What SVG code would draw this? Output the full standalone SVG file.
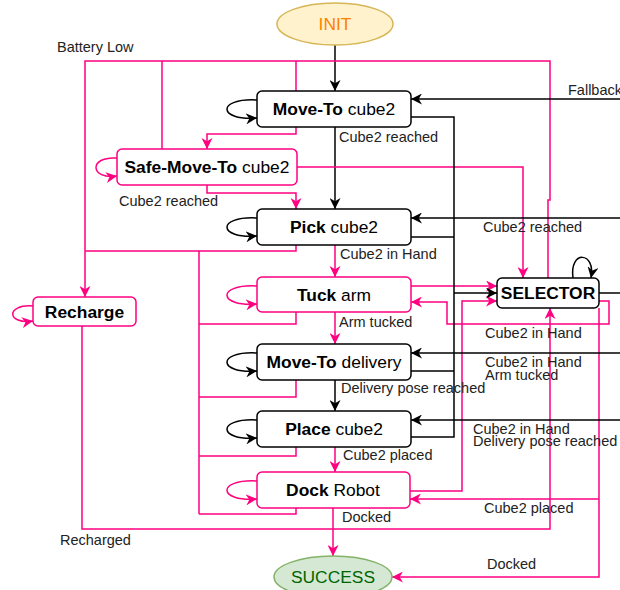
<svg xmlns="http://www.w3.org/2000/svg" width="620" height="590" viewBox="0 0 620 590">
<style>
  .n{fill:#fff;stroke:#000;stroke-width:1.5}
  .np{fill:#fff;stroke:#FF0080;stroke-width:1.5}
  .nt{font-family:"Liberation Sans",Arial,sans-serif;font-size:17.4px;fill:#000;text-anchor:middle}
  .lb{font-family:"Liberation Sans",Arial,sans-serif;font-size:14.5px;fill:#222}
  .k{fill:none;stroke:#000;stroke-width:1.5}
  .p{fill:none;stroke:#FF0080;stroke-width:1.5}
  .ka{marker-end:url(#ak)}
  .pa{marker-end:url(#ap)}
</style>
<defs>
  <marker id="ak" viewBox="0 0 10 10" refX="10" refY="5" markerWidth="11" markerHeight="11" markerUnits="userSpaceOnUse" orient="auto"><path d="M0,0 L10,5 L0,10 L3,5 z" fill="#000"/></marker>
  <marker id="ap" viewBox="0 0 10 10" refX="10" refY="5" markerWidth="11" markerHeight="11" markerUnits="userSpaceOnUse" orient="auto"><path d="M0,0 L10,5 L0,10 L3,5 z" fill="#FF0080"/></marker>
</defs>
<g id="connectors">
  <path class="k ka" d="M335,45 L335,91"/>
  <path class="k ka" d="M335,127 L335,209"/>
  <path class="k ka" d="M335,380 L335,411"/>
  <path class="p pa" d="M335,245 L335,277"/>
  <path class="p pa" d="M335,312 L335,344"/>
  <path class="p pa" d="M335,447 L335,472"/>
  <path class="p pa" d="M333,508 L333,556"/>
  <path class="p pa" d="M296,127 L296,134 L207,134 L207,149"/>
  <path class="p pa" d="M207,185 L207,193 L296,193 L296,209"/>
  <path class="p pa" d="M297,167 L523,167 L523,278"/>
  <path class="p pa" d="M548,278 L548,200 L550,200 L550,61 L85,61 L85,297"/>
  <path class="p" d="M162,149 L162,61"/>
  <path class="p" d="M296,91 L296,61"/>
  <path class="p" d="M296,245 L296,251 L85,251"/>
  <path class="p" d="M199,251 L199,514"/>
  <path class="p" d="M296,312 L296,324 L199,324"/>
  <path class="p" d="M296,380 L296,397 L199,397"/>
  <path class="p" d="M296,447 L296,456 L199,456"/>
  <path class="p" d="M296,508 L296,514 L199,514"/>
  <path class="p pa" d="M82,326 L82,529 L550,529 L550,308"/>
  <path class="p pa" d="M411,286 L497,286"/>
  <path class="p pa" d="M599,301 L609,301 L609,324 L447,324 L447,302 L411,302"/>
  <path class="p pa" d="M410,491 L462,491 L462,301 L497,301"/>
  <path class="p pa" d="M599,308 L599,577 L392,577"/>
  <path class="p pa" d="M599,499 L410,499"/>
  <path class="k" d="M411,117 L454,117 L454,437 L411,437"/>
  <path class="k" d="M411,237 L454,237"/>
  <path class="k" d="M411,371 L454,371"/>
  <path class="k ka" d="M454,293 L497,293"/>
  <path class="k" d="M599,293 L620,293"/>
  <path class="k ka" d="M620,99 L411,99"/>
  <path class="k ka" d="M620,218 L411,218"/>
  <path class="k ka" d="M620,353 L411,353"/>
  <path class="k ka" d="M620,420 L411,420"/>
  <path class="k ka" d="M257,100 C216,98 218,121 257,118"/>
  <path class="p pa" d="M117,158 C88,156 90,180 117,176"/>
  <path class="k ka" d="M257,218 C216,216 218,239 257,236"/>
  <path class="p pa" d="M257,286 C216,284 218,307 257,304"/>
  <path class="k ka" d="M257,353 C216,351 218,374 257,371"/>
  <path class="k ka" d="M257,420 C216,418 218,441 257,438"/>
  <path class="p pa" d="M257,481 C216,479 218,502 257,499"/>
  <path class="p pa" d="M33,306 C5,304 7,325 33,321"/>
  <path class="k ka" d="M573,278 C569,250 596,251 591,278"/>
  <text class="lb" x="57" y="52">Battery Low</text>
  <text class="lb" x="568" y="95">Fallback</text>
  <text class="lb" x="339" y="142">Cube2 reached</text>
  <text class="lb" x="119" y="206">Cube2 reached</text>
  <text class="lb" x="483" y="232">Cube2 reached</text>
  <text class="lb" x="340" y="259">Cube2 in Hand</text>
  <text class="lb" x="339" y="327">Arm tucked</text>
  <text class="lb" x="485" y="338">Cube2 in Hand</text>
  <text class="lb" x="485" y="367">Cube2 in Hand<tspan x="485" dy="13">Arm tucked</tspan></text>
  <text class="lb" x="341" y="393">Delivery pose reached</text>
  <text class="lb" x="473" y="434">Cube2 in Hand<tspan x="473" dy="12">Delivery pose reached</tspan></text>
  <text class="lb" x="343" y="460">Cube2 placed</text>
  <text class="lb" x="484" y="513">Cube2 placed</text>
  <text class="lb" x="342" y="522">Docked</text>
  <text class="lb" x="487" y="569">Docked</text>
  <text class="lb" x="60" y="545">Recharged</text>
</g>
<g id="init">
  <ellipse cx="335" cy="24" rx="58" ry="21" fill="#fff2cc" stroke="#d6b656" stroke-width="1.5"/>
  <text class="nt" x="335" y="30" style="fill:#FF8000">INIT</text>
</g>
<g id="moveto-cube2">
  <rect class="n" x="257" y="91" width="154" height="36" rx="5"/>
  <text class="nt" x="334" y="115"><tspan font-weight="bold">Move-To</tspan> cube2</text>
</g>
<g id="safe-moveto-cube2">
  <rect class="np" x="117" y="149" width="180" height="36" rx="5"/>
  <text class="nt" x="207" y="173"><tspan font-weight="bold">Safe-Move-To</tspan> cube2</text>
</g>
<g id="pick-cube2">
  <rect class="n" x="257" y="209" width="154" height="36" rx="5"/>
  <text class="nt" x="334" y="233"><tspan font-weight="bold">Pick</tspan> cube2</text>
</g>
<g id="tuck-arm">
  <rect class="np" x="257" y="277" width="154" height="35" rx="5"/>
  <text class="nt" x="334" y="300.5"><tspan font-weight="bold">Tuck</tspan> arm</text>
</g>
<g id="moveto-delivery">
  <rect class="n" x="257" y="344" width="154" height="36" rx="5"/>
  <text class="nt" x="334" y="368"><tspan font-weight="bold">Move-To</tspan> delivery</text>
</g>
<g id="place-cube2">
  <rect class="n" x="257" y="411" width="154" height="36" rx="5"/>
  <text class="nt" x="334" y="435"><tspan font-weight="bold">Place</tspan> cube2</text>
</g>
<g id="dock-robot">
  <rect class="np" x="257" y="472" width="153" height="36" rx="5"/>
  <text class="nt" x="333" y="496"><tspan font-weight="bold">Dock</tspan> Robot</text>
</g>
<g id="recharge">
  <rect class="np" x="33" y="297" width="103" height="29" rx="5"/>
  <text class="nt" x="84.5" y="317.5" font-weight="bold">Recharge</text>
</g>
<g id="selector">
  <rect class="n" x="497" y="278" width="102" height="30" rx="5"/>
  <text class="nt" x="548" y="299" font-weight="bold">SELECTOR</text>
</g>
<g id="success">
  <ellipse cx="333" cy="577" rx="59" ry="21" fill="#d5e8d4" stroke="#82b366" stroke-width="1.5"/>
  <text class="nt" x="333" y="583" style="fill:#006600">SUCCESS</text>
</g>
</svg>
